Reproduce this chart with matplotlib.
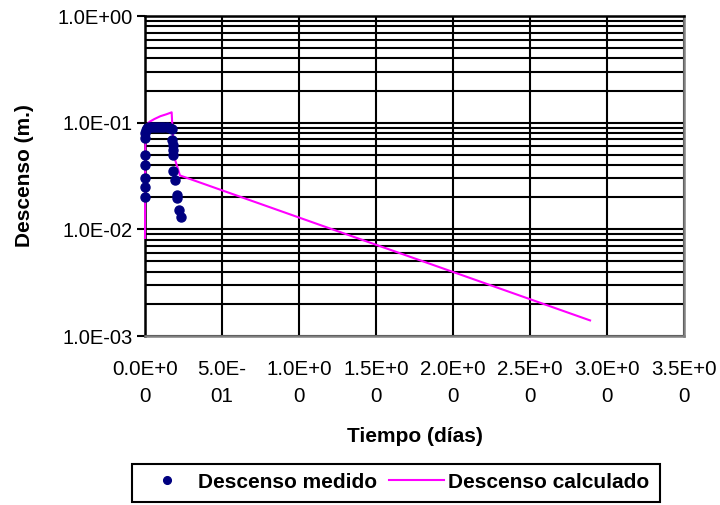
import numpy as np
import matplotlib.pyplot as plt
from matplotlib.patches import Rectangle
from matplotlib.ticker import FixedLocator, LogLocator, NullFormatter

plt.rcParams['font.family'] = ['Liberation Sans', 'DejaVu Sans']

# datos
t_medido = [0.0, 0.0, 0.0, 0.0, 0.0, 0.0, 0.003, 0.006, 0.013, 0.025, 0.04, 0.06,
            0.08, 0.10, 0.12, 0.14, 0.16, 0.173, 0.173, 0.179, 0.184, 0.184,
            0.184, 0.195, 0.206, 0.21, 0.221, 0.232]
s_medido = [0.020, 0.025, 0.030, 0.040, 0.050, 0.072, 0.080, 0.086, 0.090, 0.091,
            0.091, 0.091, 0.091, 0.091, 0.091, 0.091, 0.090, 0.088, 0.069, 0.062,
            0.055, 0.050, 0.0355, 0.029, 0.021, 0.0195, 0.0152, 0.013]

t_calc = [0.0, 0.002, 0.01, 0.03, 0.06, 0.10, 0.14, 0.173, 0.18, 0.195, 0.227, 2.89]
s_calc = [0.0083, 0.06, 0.095, 0.102, 0.108, 0.115, 0.12, 0.125, 0.08, 0.045, 0.032, 0.0014]

x_ticks = [0.0, 0.5, 1.0, 1.5, 2.0, 2.5, 3.0, 3.5]
x_labels = ['0.0E+0\n0', '5.0E-\n01', '1.0E+0\n0', '1.5E+0\n0', '2.0E+0\n0',
            '2.5E+0\n0', '3.0E+0\n0', '3.5E+0\n0']
y_ticks = [1e-3, 1e-2, 1e-1, 1e0]
y_labels = ['1.0E-03', '1.0E-02', '1.0E-01', '1.0E+00']

W, H = 720, 505
fig = plt.figure(figsize=(7.2, 5.05), dpi=100)
ax = fig.add_axes([145/W, 1-336/H, 539/W, 320/H])

ax.set_yscale('log')
ax.set_xlim(0, 3.5)
ax.set_ylim(1e-3, 1)

# rejilla
ax.yaxis.set_major_locator(FixedLocator(y_ticks))
ax.yaxis.set_minor_locator(LogLocator(base=10, subs=np.arange(2, 10)))
ax.yaxis.set_minor_formatter(NullFormatter())
ax.set_yticklabels(y_labels)
ax.set_xticks(x_ticks)
ax.set_xticklabels(x_labels, linespacing=1.55)
ax.grid(True, which='both', axis='y', color='black', lw=1.5)
ax.grid(True, which='major', axis='x', color='black', lw=1.5)
ax.set_axisbelow(True)

ax.plot(t_calc, s_calc, '-', color='#FF00FF', lw=1.5, label='Descenso calculado',
        zorder=3, clip_on=False)
ax.plot(t_medido, s_medido, 'o', color='#000080', ms=6.5, label='Descenso medido',
        zorder=4, clip_on=False)

ax.tick_params(axis='y', which='major', length=6, width=1.5, labelsize=14.5, pad=3)
ax.tick_params(axis='y', which='minor', length=0)
ax.tick_params(axis='x', length=0, labelsize=14.8, pad=17)

for s in ['left', 'top']:
    ax.spines[s].set_color('black')
    ax.spines[s].set_linewidth(1.8)
for s in ['right', 'bottom']:
    ax.spines[s].set_color('#808080')
    ax.spines[s].set_linewidth(1.8)

ax.set_ylabel('Descenso (m.)', fontsize=15, fontweight='bold')
ax.yaxis.set_label_coords(-111/539, 0.5)
ax.set_xlabel('Tiempo (días)', fontsize=15, fontweight='bold')
ax.xaxis.set_label_coords(0.5, -91/320)

# leyenda con marco propio (medido primero)
h, l = ax.get_legend_handles_labels()
fig.legend(h[::-1], l[::-1], loc='center left', bbox_to_anchor=(139/W, 1-482/H),
           ncol=2, prop={'size': 15, 'weight': 'bold'}, frameon=False,
           handlelength=2.64, columnspacing=0.58, borderpad=0, borderaxespad=0,
           handletextpad=0.19, markerscale=0.85)
fig.add_artist(Rectangle((132/W, 1-502/H), 528/W, 38/H, transform=fig.transFigure,
                         fill=False, edgecolor='black', lw=1.5))

fig.savefig('out.png', dpi=100)
